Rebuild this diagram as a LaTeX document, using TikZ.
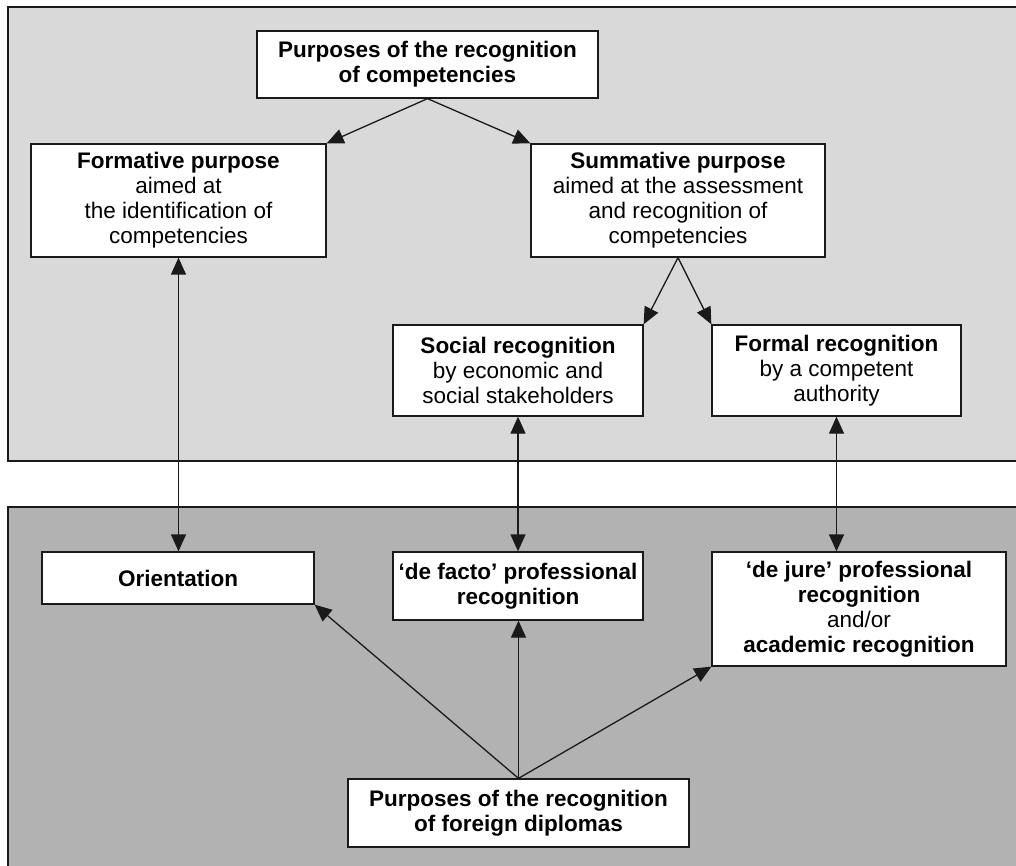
\documentclass[tikz,border=0pt]{standalone}
\usepackage{fontspec}
\setmainfont{Liberation Sans}
\usetikzlibrary{arrows.meta}
\definecolor{panelA}{HTML}{D9D9D9}
\definecolor{panelB}{HTML}{B2B2B2}
\definecolor{ink}{HTML}{1A1A1A}
\begin{document}
\begin{tikzpicture}[x=1pt,y=-1pt,
  box/.style={draw=ink, line width=1.3pt, fill=white, inner sep=0pt, align=center,
              font=\fontsize{22.5}{25}\selectfont},
  tip/.tip={Triangle[length=17pt,width=15pt]},
  link/.style={draw=ink, line width=1.3pt, -tip},
  both/.style={draw=ink, line width=1.3pt, tip-tip}]
\useasboundingbox (0,0) rectangle (1016,866);
\clip (0,0) rectangle (1016,866);
\fill[white] (0,0) rectangle (1016,866);
% the two background panels
\draw[ink, line width=1.1pt, fill=panelA] (8,7) rectangle (1030,461);
\draw[ink, line width=1.1pt, fill=panelB] (8,507) rectangle (1030,880);

% upper panel: recognition of competencies
\node[box, minimum width=341pt, minimum height=67pt] (pc) at (427.5,64.5)
  {\textbf{Purposes of the recognition}\\\textbf{of competencies}};
\node[box, minimum width=295pt, minimum height=113pt] (form) at (178.5,200.5)
  {\textbf{Formative purpose}\\aimed at\\the identification of\\competencies};
\node[box, minimum width=294pt, minimum height=113pt] (summ) at (678,200.5)
  {\textbf{Summative purpose}\\aimed at the assessment\\and recognition of\\competencies};
\node[box, minimum width=250pt, minimum height=91pt] (soc) at (518,370.5)
  {\textbf{Social recognition}\\by economic and\\social stakeholders};
\node[box, minimum width=249pt, minimum height=91pt] (fml) at (836.5,370.5)
  {\textbf{Formal recognition}\\by a competent\\authority};

% lower panel: recognition of foreign diplomas
\node[box, minimum width=272pt, minimum height=52pt] (ori) at (178,578)
  {\textbf{Orientation}};
\node[box, minimum width=250pt, minimum height=68pt] (fac) at (518,586)
  {\textbf{‘de facto’ professional}\\\textbf{recognition}};
\node[box, minimum width=294pt, minimum height=114pt] (jur) at (859,609)
  {\textbf{‘de jure’ professional}\\\textbf{recognition}\\and/or\\\textbf{academic recognition}};
\node[box, minimum width=341pt, minimum height=68pt] (pfd) at (518.5,813)
  {\textbf{Purposes of the recognition}\\\textbf{of foreign diplomas}};

% connectors
\draw[link] (pc.south) -- (form.north east);
\draw[link] (pc.south) -- (summ.north west);
\draw[link] (summ.south) -- (soc.north east);
\draw[link] (summ.south) -- (fml.north west);
\draw[both] (form.south) -- (form.south |- ori.north);
\draw[both] (soc.south) -- (soc.south |- fac.north);
\draw[both] (fml.south) -- (fml.south |- jur.north);
\draw[link] (pfd.north) -- (ori.south east);
\draw[link] (pfd.north) -- (pfd.north |- fac.south);
\draw[link] (pfd.north) -- (jur.south west);
\end{tikzpicture}
\end{document}
